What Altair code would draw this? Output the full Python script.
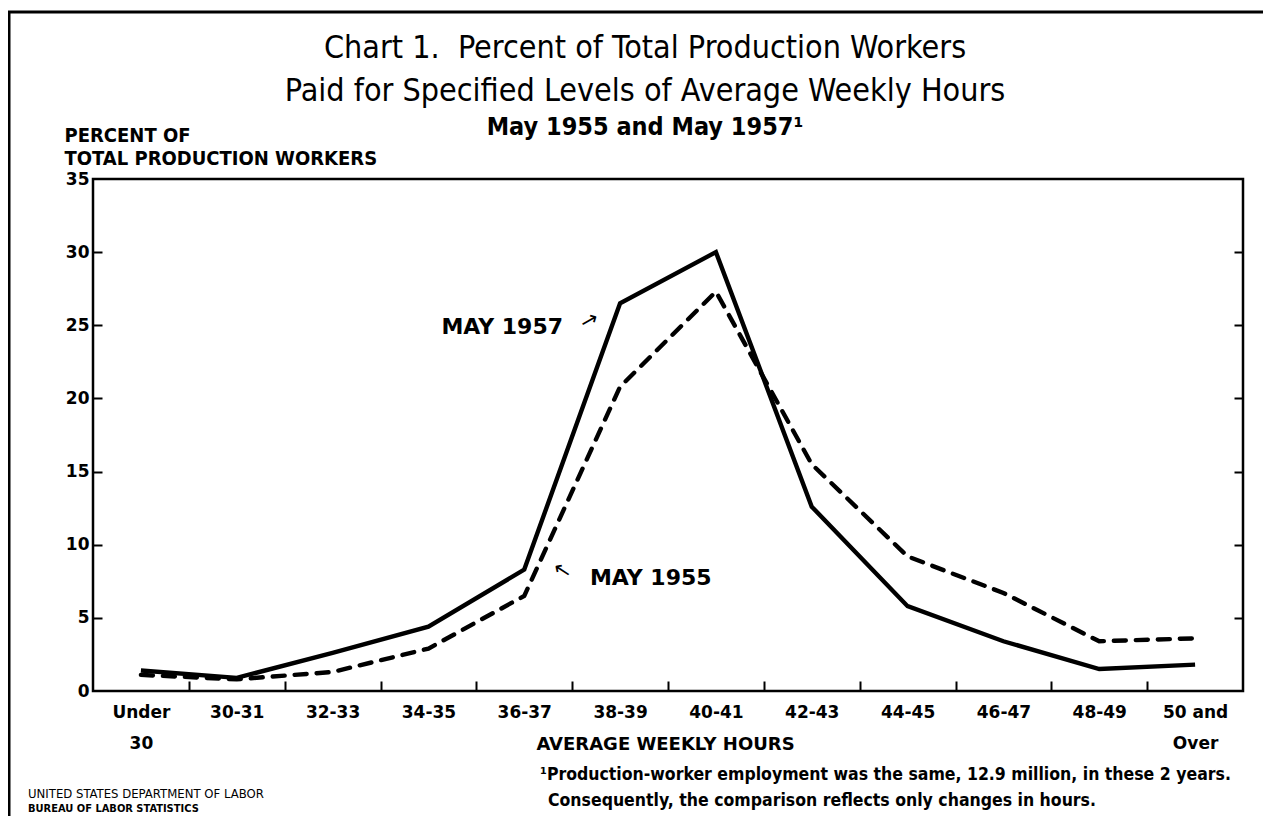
import json
import altair as alt
import pandas as pd

# ---------------- data ----------------
categories = ["Under 30", "30-31", "32-33", "34-35", "36-37", "38-39",
              "40-41", "42-43", "44-45", "46-47", "48-49", "50 and Over"]
tick_label_lines = [["Under", "30"], ["30-31"], ["32-33"], ["34-35"], ["36-37"], ["38-39"],
                    ["40-41"], ["42-43"], ["44-45"], ["46-47"], ["48-49"], ["50 and", "Over"]]
may_1957 = [1.4, 0.9, 2.6, 4.4, 8.3, 26.5, 30.0, 12.6, 5.8, 3.4, 1.5, 1.8]
may_1955 = [1.1, 0.8, 1.3, 2.9, 6.5, 20.8, 27.3, 15.5, 9.2, 6.7, 3.4, 3.6]
y_ticks = [0, 5, 10, 15, 20, 25, 30, 35]
inner_y_ticks = [5, 10, 15, 20, 25, 30]

title_lines = ["Chart 1.\u00a0 Percent of Total Production Workers",
               "Paid for Specified Levels of Average Weekly Hours"]
subtitle_text = "May 1955 and May 1957\u00b9"
y_title_lines = ["PERCENT OF", "TOTAL PRODUCTION WORKERS"]
x_title = "AVERAGE WEEKLY HOURS"
footnote_line_1 = "\u00b9Production-worker employment was the same, 12.9 million, in these 2 years."
footnote_line_2 = "Consequently, the comparison reflects only changes in hours."
credit_1 = "UNITED STATES DEPARTMENT OF LABOR"
credit_2 = "BUREAU OF LABOR STATISTICS"

# ---------------- tables ----------------
n = len(categories)
rows = []
for i, c in enumerate(categories):
    rows.append({"idx": i, "category": c, "series": "MAY 1957", "value": may_1957[i]})
    rows.append({"idx": i, "category": c, "series": "MAY 1955", "value": may_1955[i]})
df = pd.DataFrame(rows)
df57 = df[df.series == "MAY 1957"]
df55 = df[df.series == "MAY 1955"]

annot = pd.DataFrame([
    {"ax": 3.77, "ay": 24.9, "label": "MAY 1957"},
    {"ax": 5.32, "ay": 7.72, "label": "MAY 1955"},
])
arrows = pd.DataFrame([
    {"ax": 4.68, "ay": 25.3, "ang": 331},
    {"ax": 4.40, "ay": 8.27, "ang": 213},
])

W, H = 1150, 512
BOLD_WIDE = "DejaVu Sans"
COND = "Liberation Sans Narrow, DejaVu Sans Condensed, Liberation Sans, sans-serif"

x_scale = alt.Scale(domain=[-0.5, n - 0.5], nice=False, zero=False)
y_scale = alt.Scale(domain=[0, 35], nice=False, zero=False)
label_expr = json.dumps(tick_label_lines) + "[datum.value]"

x_axis_main = alt.Axis(
    orient="bottom", values=list(range(n)), labelExpr=label_expr,
    ticks=False, domain=False, grid=False,
    labelFont=BOLD_WIDE, labelFontWeight="bold", labelFontSize=17, labelColor="black",
    labelPadding=13, labelLineHeight=31, labelBaseline="top",
    labelFlush=False, labelOverlap=False, labelBound=False,
    title=x_title, titleFont=BOLD_WIDE, titleFontWeight="bold", titleFontSize=18,
    titleColor="black", titleBaseline="middle", titleY=53, titleX=W / 2 - 3,
)
y_axis_main = alt.Axis(
    orient="left", values=y_ticks, ticks=False, domain=False, grid=False,
    labelFont=BOLD_WIDE, labelFontWeight="bold", labelFontSize=17, labelColor="black",
    labelPadding=4,
    title=y_title_lines, titleAngle=0, titleAlign="left", titleBaseline="alphabetic",
    titleX=-29, titleY=-38, titleLineHeight=23, titleFont=COND, titleFontWeight="bold",
    titleFontSize=20, titleColor="black",
)
x_axis_ticks = alt.Axis(
    orient="top", offset=-H, values=[i + 0.5 for i in range(n - 1)],
    labels=False, ticks=True, tickSize=10, tickWidth=2, tickColor="black",
    domain=False, grid=False, title=None,
)
y_axis_ticks_left = alt.Axis(
    orient="right", offset=-W, values=inner_y_ticks, labels=False, ticks=True,
    tickSize=9, tickWidth=2, tickColor="black", domain=False, grid=False, title=None,
)
y_axis_ticks_right = alt.Axis(
    orient="left", offset=-W, values=inner_y_ticks, labels=False, ticks=True,
    tickSize=9, tickWidth=2, tickColor="black", domain=False, grid=False, title=None,
)

line57 = alt.Chart(df57).mark_line(color="black", strokeWidth=4.4, strokeJoin="miter").encode(
    x=alt.X("idx:Q", scale=x_scale, axis=x_axis_main),
    y=alt.Y("value:Q", scale=y_scale, axis=y_axis_main),
    order="idx:Q",
)
line55 = alt.Chart(df55).mark_line(color="black", strokeWidth=4.4, strokeDash=[12, 10],
                                   strokeCap="round").encode(
    x=alt.X("idx:Q", scale=x_scale, axis=x_axis_ticks),
    y=alt.Y("value:Q", scale=y_scale, axis=y_axis_ticks_left),
    order="idx:Q",
)
labels = alt.Chart(annot).mark_text(font=BOLD_WIDE, fontWeight="bold", fontSize=22,
                                    color="black", baseline="middle", align="center").encode(
    x=alt.X("ax:Q", scale=x_scale, axis=None),
    y=alt.Y("ay:Q", scale=y_scale, axis=y_axis_ticks_right),
    text="label:N",
)
arrow_marks = alt.Chart(arrows).mark_text(font="DejaVu Sans", fontSize=21, color="black",
                                          baseline="middle", align="center").encode(
    x=alt.X("ax:Q", scale=x_scale, axis=None),
    y=alt.Y("ay:Q", scale=y_scale, axis=None),
    angle=alt.Angle("ang:Q", scale=None),
    text=alt.value("\u2192"),
)

one = pd.DataFrame({"k": [0]})
foot_1 = alt.Chart(one).mark_text(font=COND, fontWeight="bold", fontSize=17.5, color="black",
                                  align="left", baseline="middle").encode(
    x=alt.value(447), y=alt.value(596), text=alt.value(footnote_line_1))
foot_2 = alt.Chart(one).mark_text(font=COND, fontWeight="bold", fontSize=17.5, color="black",
                                  align="left", baseline="middle").encode(
    x=alt.value(455), y=alt.value(622), text=alt.value(footnote_line_2))
credit_a = alt.Chart(one).mark_text(font=COND, fontSize=13, color="black",
                                    align="left", baseline="alphabetic").encode(
    x=alt.value(-65), y=alt.value(619), text=alt.value(credit_1))
credit_b = alt.Chart(one).mark_text(font=COND, fontSize=11, fontWeight="bold", color="black",
                                    align="left", baseline="alphabetic").encode(
    x=alt.value(-65), y=alt.value(633), text=alt.value(credit_2))
border_top = alt.Chart(one).mark_rule(color="black", strokeWidth=3).encode(
    x=alt.value(-85), x2=alt.value(W + 22), y=alt.value(-167))
border_left = alt.Chart(one).mark_rule(color="black", strokeWidth=3).encode(
    x=alt.value(-84), y=alt.value(-167), y2=alt.value(H + 143))

chart = alt.layer(
    line57, line55, labels, arrow_marks, foot_1, foot_2, credit_a, credit_b,
    border_top, border_left
).resolve_scale(x="shared", y="shared").resolve_axis(x="independent", y="independent").properties(
    width=W, height=H,
    title=alt.TitleParams(
        text=title_lines, subtitle=subtitle_text,
        font=COND, fontSize=32, fontWeight="normal", lineHeight=43, color="black",
        subtitleFont=COND, subtitleFontSize=25, subtitleFontWeight="bold", subtitleColor="black",
        subtitlePadding=7, anchor="middle", dx=-23, offset=-130,
    ),
    padding={"left": 85, "top": 171, "right": 20, "bottom": 125},
    autosize=alt.AutoSizeParams(type="none"),
).configure_view(stroke="black", strokeWidth=2.5)

chart.save("out.html", embed_options={"renderer": "svg", "actions": False})
